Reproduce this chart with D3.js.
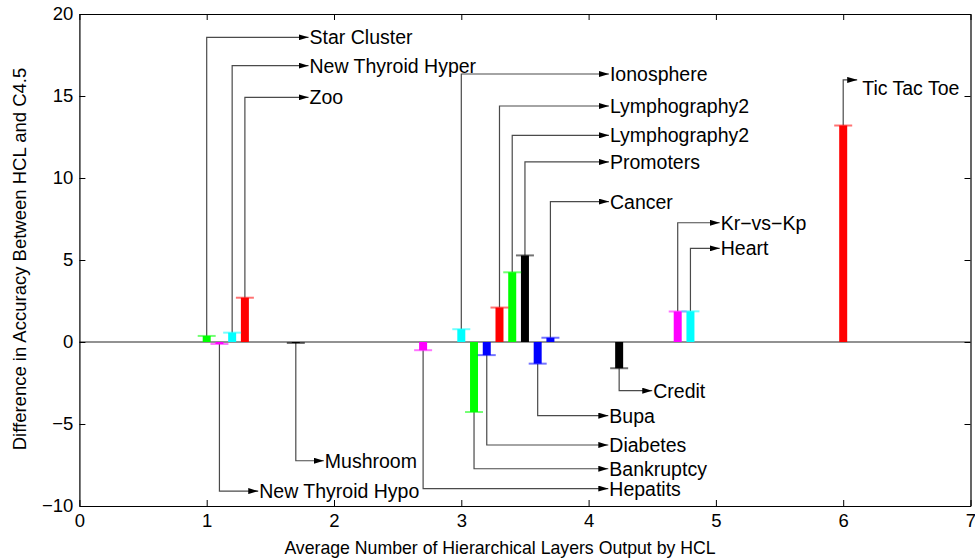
<!DOCTYPE html>
<html>
<head>
<meta charset="utf-8">
<script src="https://cdn.jsdelivr.net/npm/d3@7"></script>
<style>
  body { margin: 0; background: #fff; }
  text { font-family: "Liberation Sans", Arial, Helvetica, sans-serif; }
</style>
</head>
<body>
<svg width="975" height="560"></svg>
<script>
// average layers output by HCL, per dataset
var layers = [1.0, 1.1, 1.2, 1.3, 1.7, 2.7, 3.0, 3.1, 3.2, 3.3, 3.4, 3.5, 3.6, 3.7, 4.24, 4.7, 4.8, 6.0];
// accuracy difference HCL - C4.5
var diffs = [0.37, -0.12, 0.57, 2.7, -0.06, -0.5, 0.78, -4.27, -0.8, 2.1, 4.25, 5.28, -1.32, 0.26, -1.6, 1.86, 1.87, 13.2];
var names = ["Star Cluster", "New Thyroid Hypo", "New Thyroid Hyper", "Zoo", "Mushroom", "Hepatits",
  "Ionosphere", "Bankruptcy", "Diabetes", "Lymphography2", "Lymphography2", "Promoters", "Bupa",
  "Cancer", "Credit", "Kr\u2212vs\u2212Kp", "Heart", "Tic Tac Toe"];
var colors = ["#00ff00", "#ff00ff", "#00ffff", "#ff0000", "#000000", "#ff00ff", "#00ffff", "#00ff00",
  "#0000ff", "#ff0000", "#00ff00", "#000000", "#0000ff", "#0000ff", "#000000", "#ff00ff", "#00ffff", "#ff0000"];
// where each annotation arrow ends (data units)
var arrowX = [1.80, 1.405, 1.80, 1.80, 1.92, 4.155, 4.16, 4.155, 4.155, 4.16, 4.16, 4.16, 4.155, 4.16, 4.50, 5.03, 5.03, 6.11];
var arrowY = [18.58, -9.09, 16.85, 14.92, -7.24, -8.94, 16.34, -7.73, -6.28, 14.39, 12.60, 10.98, -4.49, 8.56, -2.97, 7.27, 5.71, 15.98];

var xTicks = [0, 1, 2, 3, 4, 5, 6, 7];
var yTicks = [-10, -5, 0, 5, 10, 15, 20];

var svg = d3.select("svg");
var pLeft = 79.4, pRight = 970.5, pTop = 14, pBottom = 506;

var x = d3.scaleLinear().domain([0, 7]).range([pLeft, pRight]);
var y = d3.scaleLinear().domain([-10, 20]).range([pBottom, pTop]);

// zero line
svg.append("line")
  .attr("x1", x(0)).attr("x2", x(7))
  .attr("y1", y(0)).attr("y2", y(0))
  .attr("stroke", "#6e6e6e").attr("stroke-width", 1.5);

var data = layers.map(function(d, i) {
  return { x: d, v: diffs[i], name: names[i], c: colors[i], ax: arrowX[i], ay: arrowY[i] };
});

// annotation leaders
svg.append("defs").append("marker")
  .attr("id", "head").attr("viewBox", "0 0 10 6")
  .attr("refX", 10).attr("refY", 3)
  .attr("markerWidth", 10).attr("markerHeight", 6)
  .attr("markerUnits", "userSpaceOnUse")
  .attr("orient", "auto")
  .append("path").attr("d", "M0,0L10,3L0,6Z").attr("fill", "#000");

svg.selectAll(".lead").data(data).enter().append("path")
  .attr("class", "lead")
  .attr("fill", "none").attr("stroke", "#4a4a4a").attr("stroke-width", 1.2)
  .attr("marker-end", "url(#head)")
  .attr("d", function(d) {
    return "M" + x(d.x) + "," + y(d.v) + "V" + y(d.ay) + "H" + x(d.ax);
  });

// bars
svg.selectAll(".bar").data(data).enter().append("line")
  .attr("class", "bar")
  .attr("x1", function(d) { return x(d.x); })
  .attr("x2", function(d) { return x(d.x); })
  .attr("y1", y(0))
  .attr("y2", function(d) { return y(d.v); })
  .attr("stroke", function(d) { return d.c; })
  .attr("stroke-width", 8);

// caps
svg.selectAll(".cap").data(data).enter().append("line")
  .attr("class", "cap")
  .attr("x1", function(d) { return x(d.x) - 9; })
  .attr("x2", function(d) { return x(d.x) + 9; })
  .attr("y1", function(d) { return y(d.v); })
  .attr("y2", function(d) { return y(d.v); })
  .attr("stroke", function(d) { return d.c; })
  .attr("stroke-opacity", 0.55)
  .attr("stroke-width", 2);

// labels (the last one sits a bit below its arrow)
svg.selectAll(".lab").data(data).enter().append("text")
  .attr("class", "lab")
  .attr("x", function(d) { return d.name === "Tic Tac Toe" ? x(d.ax) + 5 : x(d.ax) + 1; })
  .attr("y", function(d) { return d.name === "Tic Tac Toe" ? y(d.ay) + 8 : y(d.ay); })
  .attr("dy", "0.36em")
  .attr("font-size", 19.5)
  .attr("fill", "#000")
  .text(function(d) { return d.name; });

// axes, MATLAB style: inward ticks on all sides
function fmt(d) { return d < 0 ? "\u2212" + Math.abs(d) : d; }

var gx = svg.append("g").attr("transform", "translate(0," + pBottom + ")")
  .call(d3.axisBottom(x).tickValues(xTicks).tickSizeInner(-6).tickSizeOuter(0).tickPadding(8).tickFormat(fmt));
var gy = svg.append("g").attr("transform", "translate(" + pLeft + ",0)")
  .call(d3.axisLeft(y).tickValues(yTicks).tickSizeInner(-6).tickSizeOuter(0).tickPadding(6).tickFormat(fmt));
var gt = svg.append("g").attr("transform", "translate(0," + pTop + ")")
  .call(d3.axisTop(x).tickValues(xTicks).tickSizeInner(-6).tickSizeOuter(0).tickFormat(""));
var gr = svg.append("g").attr("transform", "translate(" + pRight + ",0)")
  .call(d3.axisRight(y).tickValues(yTicks).tickSizeInner(-6).tickSizeOuter(0).tickFormat(""));

[gx, gy, gt, gr].forEach(function(g) {
  g.selectAll("path.domain").attr("stroke", "#000").attr("stroke-width", 1.2);
  g.selectAll(".tick line").attr("stroke", "#000");
  g.selectAll(".tick text").attr("font-size", 18.5).attr("fill", "#000")
    .attr("font-family", "'Liberation Sans', Arial, sans-serif");
});

svg.append("text")
  .attr("x", 500).attr("y", 548).attr("dy", "0.35em")
  .attr("text-anchor", "middle").attr("font-size", 17.7)
  .text("Average Number of Hierarchical Layers Output by HCL");

svg.append("text")
  .attr("transform", "translate(20,259) rotate(-90)")
  .attr("dy", "0.35em")
  .attr("text-anchor", "middle").attr("font-size", 18.5)
  .text("Difference in Accuracy Between HCL and C4.5");
</script>
</body>
</html>
